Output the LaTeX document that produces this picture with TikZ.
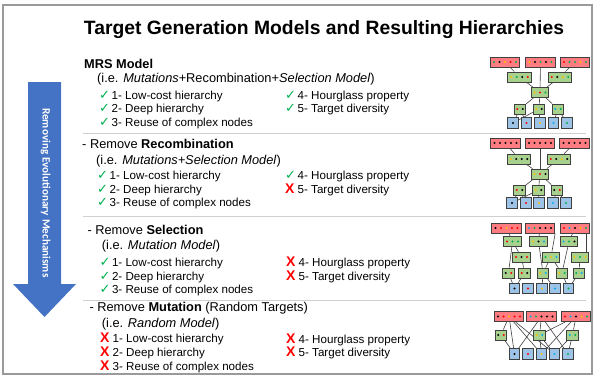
\documentclass[tikz,border=0pt]{standalone}
\usepackage{fontspec}
\setmainfont{Liberation Sans}
\newfontfamily\symfont{DejaVu Sans}
\newfontfamily\arrowfont{Carlito}
\usepackage{tikz}
\usepackage{xcolor}
\pgfdeclarelayer{background}
\pgfsetlayers{background,main}

\definecolor{boxred}{HTML}{FF7C80}
\definecolor{boxgreen}{HTML}{A9D18E}
\definecolor{boxblue}{HTML}{9DC3E6}
\definecolor{arrowblue}{HTML}{4472C4}
\definecolor{okgreen}{HTML}{00B050}
\definecolor{nored}{HTML}{FF0000}
\definecolor{framegray}{HTML}{9A9A9A}
\definecolor{rulegray}{HTML}{D0D0D0}
\definecolor{edgegray}{HTML}{404040}
\definecolor{dk}{HTML}{000000}
\definecolor{dr}{HTML}{FF0000}
\definecolor{dy}{HTML}{FFC000}
\definecolor{dg}{HTML}{00B050}
\definecolor{dc}{HTML}{00B0F0}

\newcommand{\okmark}{\makebox[12.5pt][l]{\textcolor{okgreen}{\symfont\fontsize{13}{13}\selectfont ✓}}}
\newcommand{\nomark}{\makebox[12.5pt][l]{\textcolor{nored}{\fontsize{14}{14}\selectfont\bfseries X}}}
\newcommand{\hbx}[5]{%
	\node[minimum width={6*#4-0.5}, #1] (#2) at (#3) {};
	\foreach \c [count=\i] in {#5}
		\fill[\c] ([xshift={(\i-(#4+1)/2)*5.5}]#2.center) circle (1.1pt);
}

\tikzset{
	rbox/.style={draw=edgegray, line width=0.8pt, fill=boxred, minimum height=10, inner sep=0pt},
	gbox/.style={draw=edgegray, line width=0.8pt, fill=boxgreen, minimum height=10, inner sep=0pt},
	bbox/.style={draw=edgegray, line width=0.8pt, fill=boxblue, minimum width=10.5, minimum height=10.5, inner sep=0pt},
	edgeln/.style={draw=edgegray, line width=0.6pt},
	txt/.style={anchor=base west, inner sep=0pt, font=\fontsize{11.6}{13}\selectfont},
	head/.style={anchor=base west, inner sep=0pt, font=\fontsize{12.8}{14}\selectfont},
	arrowword/.style={rotate=-90, anchor=base west, inner sep=0pt, text=white, font=\arrowfont\bfseries\fontsize{11.2}{12}\selectfont},
	seprule/.style={draw=rulegray, line width=1.5pt}
}

\begin{document}
\begin{tikzpicture}[x=1pt, y=-1pt]
	\useasboundingbox (0,0) rectangle (598,389);
	\draw[framegray, line width=1.5pt] (3,5) rectangle (592,374);

	\node[anchor=base, inner sep=0pt, font=\fontsize{19.3}{22}\selectfont\bfseries] (title) at (324,34) {Target Generation Models and Resulting Hierarchies};

	\fill[arrowblue] (28,82) -- (61,82) -- (61,284) -- (76,284) -- (44.5,317) -- (13,284) -- (28,284) -- cycle;
	\node[arrowword] (arrowlbla) at (42.5,108) {Removing};
	\node[arrowword] (arrowlblb) at ([yshift=-2.6pt]arrowlbla.base east) {Evolutionary};
	\node[arrowword] (arrowlblc) at ([yshift=-2.6pt]arrowlblb.base east) {Mechanisms};

	\draw[seprule] (83,133.3) -- (586,133.3);
	\draw[seprule] (83,216.7) -- (586,216.7);
	\draw[seprule] (83,300.5) -- (586,300.5);

	\node[head] (mrs) at (84,68) {\textbf{MRS Model}};
	\node[head] (mrsie) at (97,82.5) {(i.e. \textit{Mutations}+Recombination+\textit{Selection Model})};
	\node[txt] (mrsa) at (99,99) {\okmark 1- Low-cost hierarchy};
	\node[txt] (mrsb) at (99,112.5) {\okmark 2- Deep hierarchy};
	\node[txt] (mrsc) at (99,126) {\okmark 3- Reuse of complex nodes};
	\node[txt] (mrsd) at (285,99) {\okmark 4- Hourglass property};
	\node[txt] (mrse) at (285,112.5) {\okmark 5- Target diversity};

	\node[head] (norec) at (82,148.3) {- Remove \textbf{Recombination}};
	\node[head] (norecie) at (96,164) {(i.e. \textit{Mutations+Selection Model})};
	\node[txt] (noreca) at (97,179.3) {\okmark 1- Low-cost hierarchy};
	\node[txt] (norecb) at (97,193.3) {\okmark 2- Deep hierarchy};
	\node[txt] (norecc) at (97,206.7) {\okmark 3- Reuse of complex nodes};
	\node[txt] (norecd) at (285,179.3) {\okmark 4- Hourglass property};
	\node[txt] (norece) at (285,193.3) {\nomark 5- Target diversity};

	\node[head] (nosel) at (87.3,234) {- Remove \textbf{Selection}};
	\node[head] (noselie) at (101.7,249.3) {(i.e. \textit{Mutation Model})};
	\node[txt] (nosela) at (99.3,266) {\okmark 1- Low-cost hierarchy};
	\node[txt] (noselb) at (99.3,280) {\okmark 2- Deep hierarchy};
	\node[txt] (noselc) at (99.3,293.3) {\okmark 3- Reuse of complex nodes};
	\node[txt] (noseld) at (286,266.7) {\nomark 4- Hourglass property};
	\node[txt] (nosele) at (286,280) {\nomark 5- Target diversity};

	\node[head] (nomut) at (89.3,311.7) {- Remove \textbf{Mutation} (Random Targets)};
	\node[head] (nomutie) at (101.7,327.3) {(i.e. \textit{Random Model})};
	\node[txt] (nomuta) at (100,342.7) {\nomark 1- Low-cost hierarchy};
	\node[txt] (nomutb) at (100,356.7) {\nomark 2- Deep hierarchy};
	\node[txt] (nomutc) at (100,370) {\nomark 3- Reuse of complex nodes};
	\node[txt] (nomutd) at (286,343.3) {\nomark 4- Hourglass property};
	\node[txt] (nomute) at (286,356.7) {\nomark 5- Target diversity};

	\hbx{rbox}{d1r1}{505,62}{5}{dg,dk,dy,dr,dg}
	\hbx{rbox}{d1r2}{540.5,62}{5}{dy,dk,dg,dk,dg}
	\hbx{rbox}{d1r3}{575,62}{5}{dr,dg,dg,dy,dg}
	\hbx{gbox}{d1g1}{519.5,77}{4}{dy,dg,dk,dr}
	\hbx{gbox}{d1g2}{560,77}{4}{dr,dk,dy,dg}
	\hbx{gbox}{d1g3}{540,92.5}{3}{dy,dr,dg}
	\hbx{gbox}{d1g4}{520,109}{2}{dr,dk}
	\hbx{gbox}{d1g5}{539,109}{2}{dy,dk}
	\hbx{gbox}{d1g6}{558,109}{2}{dc,dg}
	\hbx{bbox}{d1b1}{513,123}{1}{dk}
	\hbx{bbox}{d1b2}{526.5,123}{1}{dr}
	\hbx{bbox}{d1b3}{540,123}{1}{dy}
	\hbx{bbox}{d1b4}{553.5,123}{1}{dc}
	\hbx{bbox}{d1b5}{567,123}{1}{dg}

	\hbx{rbox}{d2r1}{505.5,143}{5}{dk,dk,dk,dk,dk}
	\hbx{rbox}{d2r2}{540,143}{5}{dk,dk,dk,dk,dk}
	\hbx{rbox}{d2r3}{574.5,143}{5}{dk,dk,dk,dk,dk}
	\hbx{gbox}{d2g1}{519,159}{4}{dy,dk,dk,dk}
	\hbx{gbox}{d2g2}{559,159}{4}{dr,dk,dy,dk}
	\hbx{gbox}{d2g3}{540,174}{3}{dy,dr,dk}
	\hbx{gbox}{d2g4}{519.5,190}{2}{dr,dk}
	\hbx{gbox}{d2g5}{538.5,190}{2}{dy,dk}
	\hbx{gbox}{d2g6}{557,190}{2}{dk,dr}
	\hbx{bbox}{d2b1}{512,203}{1}{dk}
	\hbx{bbox}{d2b2}{526,203}{1}{dr}
	\hbx{bbox}{d2b3}{539,203}{1}{dy}
	\hbx{bbox}{d2b4}{553,203}{1}{dc}
	\hbx{bbox}{d2b5}{566,203}{1}{dg}

	\hbx{rbox}{d3r1}{506.5,228}{5}{dk,dr,dy,dr,dr}
	\hbx{rbox}{d3r2}{540,228}{5}{dc,dg,dk,dk,dk}
	\hbx{rbox}{d3r3}{575,228}{5}{dr,dc,dk,dy,dg}
	\hbx{gbox}{d3g1}{512.5,241.5}{3}{dr,dg,dg}
	\hbx{gbox}{d3g2}{538.5,241.5}{3}{dy,dk,dc}
	\hbx{gbox}{d3g3}{569,241.5}{3}{dc,dg,dk}
	\hbx{gbox}{d3g4}{521.5,257}{3}{dr,dk,dr}
	\hbx{gbox}{d3g5}{551,257}{3}{dg,dy,dc}
	\hbx{gbox}{d3g6}{580,257}{3}{dy,dg,dy}
	\hbx{gbox}{d3g7}{508.5,273}{2}{dk,dr}
	\hbx{gbox}{d3g8}{524.5,273}{2}{dr,dk}
	\hbx{gbox}{d3g9}{543,273}{2}{dy,dc}
	\hbx{gbox}{d3g10}{562,273}{2}{dy,dg}
	\hbx{gbox}{d3g11}{579,273}{2}{dg,dc}
	\hbx{bbox}{d3b1}{514.5,288.5}{1}{dk}
	\hbx{bbox}{d3b2}{528,288.5}{1}{dr}
	\hbx{bbox}{d3b3}{542,288.5}{1}{dy}
	\hbx{bbox}{d3b4}{555,288.5}{1}{dc}
	\hbx{bbox}{d3b5}{568.5,288.5}{1}{dg}

	\hbx{rbox}{d4r1}{509,316.5}{5}{dk,dr,dy,dr,dr}
	\hbx{rbox}{d4r2}{541.5,316.5}{5}{dc,dg,dk,dk,dk}
	\hbx{rbox}{d4r3}{576,316.5}{5}{dr,dc,dk,dy,dg}
	\hbx{gbox}{d4g1}{501,335}{2}{dk,dr}
	\hbx{gbox}{d4g2}{539.5,335}{2}{dy,dc}
	\hbx{gbox}{d4g3}{572.5,335}{2}{dc,dg}
	\hbx{bbox}{d4b1}{514.5,354}{1}{dk}
	\hbx{bbox}{d4b2}{528,354}{1}{dr}
	\hbx{bbox}{d4b3}{541.5,354}{1}{dy}
	\hbx{bbox}{d4b4}{554.5,354}{1}{dc}
	\hbx{bbox}{d4b5}{568,354}{1}{dg}

	\begin{pgfonlayer}{background}
		\foreach \d in {d1,d2}
			\foreach \a/\b in {r1/g1, r2/g3, r3/g2, g1/g3, g2/g3, g3/g4, g3/g5, g3/g6, g4/b1, g4/b2, g5/b1, g5/b3, g6/b4, g6/b5}
				\draw[edgeln] (\d\a) -- (\d\b);
		\foreach \a/\b in {r1/g1, r2/g2, r3/g3, g1/g4, g1/g7, g2/g9, g3/g10, g4/g8, g5/g9, g5/g10, g6/g11, g7/b1, g8/b1, g9/b3, g9/b4, g10/b5, g11/b5}
			\draw[edgeln] (d3\a) -- (d3\b);
		\draw[edgeln] (d3r2.south east) -- (d3g5);
		\draw[edgeln] ([xshift=-4pt]d3r3.south east) -- ([xshift=-3pt]d3g6.north east);
		\foreach \a/\b in {r1/g1, r1/b1, r1/b3, r1/b4, g1/b1, r2/b1, r2/g2, r2/b5, r3/g2, r3/b3, r3/g3, g2/b3, g2/b4, g3/b4, g3/b5}
			\draw[edgeln] (d4\a) -- (d4\b);
	\end{pgfonlayer}
\end{tikzpicture}
\end{document}
